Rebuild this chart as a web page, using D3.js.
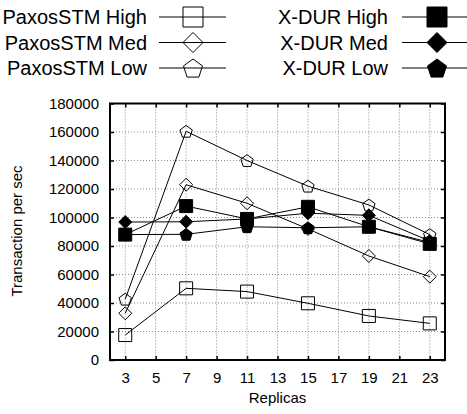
<!DOCTYPE html>
<html>
<head>
<meta charset="utf-8">
<script src="https://cdn.jsdelivr.net/npm/d3@7"></script>
<style>
  body { margin: 0; background: #fff; }
  text { font-family: "Liberation Sans", Arial, Helvetica, sans-serif; fill: #000; }
  .grid line { stroke: #888; stroke-width: 1; stroke-dasharray: 1,2; }
  .axis path { display: none; }
  .axis line { stroke: #000; stroke-width: 1.5; }
  .axis text { font-size: 15px; fill: #000; }
</style>
</head>
<body>
<svg id="chart" width="467" height="414"></svg>
<script>
// data
var replicas = [3, 7, 11, 15, 19, 23];
var paxosHigh = [17500, 50300, 48000, 39800, 30900, 25700];
var paxosMed  = [32800, 123000, 110000, 92000, 73000, 58500];
var paxosLow  = [42700, 160500, 140000, 122000, 108800, 88000];
var xdurHigh  = [88000, 108000, 99000, 107500, 93500, 81500];
var xdurMed   = [96800, 97000, 99000, 103000, 101500, 83500];
var xdurLow   = [88000, 88200, 93500, 92800, 93500, 82500];
var xTicks = d3.range(3, 24, 2);
var yTicks = d3.range(0, 180001, 20000);

var series = [
  {name: "PaxosSTM High", values: paxosHigh, shape: "square", fill: "none"},
  {name: "PaxosSTM Med", values: paxosMed, shape: "diamond", fill: "none"},
  {name: "PaxosSTM Low", values: paxosLow, shape: "pentagon", fill: "none"},
  {name: "X-DUR High", values: xdurHigh, shape: "square", fill: "#000"},
  {name: "X-DUR Med", values: xdurMed, shape: "diamond", fill: "#000"},
  {name: "X-DUR Low", values: xdurLow, shape: "pentagon", fill: "#000"}
];

var plotL = 110, plotR = 445, plotT = 103.5, plotB = 360;

var x = d3.scaleLinear().domain([2, 24]).range([plotL, plotR]);
var y = d3.scaleLinear().domain([0, 180000]).range([plotB, plotT]);

var svg = d3.select("#chart");

// marker path, s = full width
function marker(shape, s) {
  var h = s / 2;
  if (shape === "square") {
    return "M" + (-h) + "," + (-h) + "H" + h + "V" + h + "H" + (-h) + "Z";
  }
  if (shape === "diamond") {
    return "M0," + (-h) + "L" + h + ",0L0," + h + "L" + (-h) + ",0Z";
  }
  var pts = d3.range(5).map(function (k) {
    var a = -Math.PI / 2 + k * 2 * Math.PI / 5;
    return [h * Math.cos(a), h * Math.sin(a) + h * 0.1];
  });
  return "M" + pts.map(function (p) { return p[0] + "," + p[1]; }).join("L") + "Z";
}

// grid
var grid = svg.append("g").attr("class", "grid");
grid.selectAll(".gx").data(xTicks).enter().append("line")
  .attr("x1", function (d) { return x(d); }).attr("x2", function (d) { return x(d); })
  .attr("y1", plotT).attr("y2", plotB);
grid.selectAll(".gy").data(yTicks.slice(1, -1)).enter().append("line")
  .attr("x1", plotL).attr("x2", plotR)
  .attr("y1", function (d) { return y(d); }).attr("y2", function (d) { return y(d); });

// axes (ticks pointing inward on all four sides)
svg.append("g").attr("class", "axis")
  .attr("transform", "translate(0," + plotB + ")")
  .call(d3.axisBottom(x).tickValues(xTicks).tickSize(-4).tickPadding(12));
svg.append("g").attr("class", "axis")
  .attr("transform", "translate(0," + plotT + ")")
  .call(d3.axisTop(x).tickValues(xTicks).tickSize(-4).tickFormat(""));
svg.append("g").attr("class", "axis")
  .attr("transform", "translate(" + plotL + ",0)")
  .call(d3.axisLeft(y).tickValues(yTicks).tickSize(-4).tickPadding(11).tickFormat(d3.format("d")));
svg.append("g").attr("class", "axis")
  .attr("transform", "translate(" + plotR + ",0)")
  .call(d3.axisRight(y).tickValues(yTicks).tickSize(-4).tickFormat(""));

svg.append("rect")
  .attr("x", plotL).attr("y", plotT)
  .attr("width", plotR - plotL).attr("height", plotB - plotT)
  .attr("fill", "none").attr("stroke", "#000").attr("stroke-width", 2);

// series
var line = d3.line()
  .x(function (d) { return x(d[0]); })
  .y(function (d) { return y(d[1]); });

series.forEach(function (s) {
  var pts = replicas.map(function (r, i) { return [r, s.values[i]]; });
  var g = svg.append("g");
  g.append("path").attr("d", line(pts))
    .attr("fill", "none").attr("stroke", "#000").attr("stroke-width", 1);
  g.selectAll("path.m").data(pts).enter().append("path")
    .attr("class", "m")
    .attr("transform", function (d) { return "translate(" + x(d[0]) + "," + y(d[1]) + ")"; })
    .attr("d", marker(s.shape, 13))
    .attr("fill", s.fill).attr("stroke", "#000").attr("stroke-width", 1);
});

// axis titles
svg.append("text").attr("x", (plotL + plotR) / 2).attr("y", 403)
  .attr("text-anchor", "middle").style("font-size", "15px").text("Replicas");
svg.append("text").attr("transform", "translate(22,231) rotate(-90)")
  .attr("text-anchor", "middle").style("font-size", "15px").text("Transaction per sec");

// legend
var rowY = [17, 42.5, 68];
series.forEach(function (s, i) {
  var col = i < 3 ? 0 : 1;
  var yy = rowY[i % 3];
  var textEnd = col ? 388 : 147;
  var x0 = col ? 402 : 159, x1 = col ? 467 : 226, mx = col ? 437 : 193;
  svg.append("text").attr("x", textEnd).attr("y", yy).attr("dy", "0.35em")
    .attr("text-anchor", "end").style("font-size", "20px").text(s.name);
  svg.append("line").attr("x1", x0).attr("x2", x1).attr("y1", yy).attr("y2", yy)
    .attr("stroke", "#000").attr("stroke-width", 1);
  svg.append("path").attr("transform", "translate(" + mx + "," + yy + ")")
    .attr("d", marker(s.shape, 20))
    .attr("fill", s.fill).attr("stroke", "#000").attr("stroke-width", 1);
});
</script>
</body>
</html>
